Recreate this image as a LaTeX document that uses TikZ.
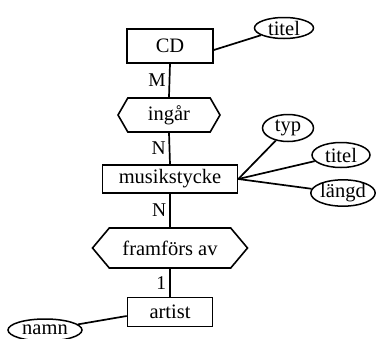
\documentclass[tikz,border=0pt]{standalone}
\usepackage{fontspec}
\setmainfont{Liberation Serif}
\usetikzlibrary{shapes.geometric,shapes.symbols}
\begin{document}
\begin{tikzpicture}[x=1pt,y=-1pt,
  every node/.style={font=\fontsize{20.5}{22}\selectfont, inner sep=0pt},
  ent/.style={draw, line width=1.6pt, rectangle},
  rel/.style={draw, line width=1.6pt, signal, signal to=west and east},
  attr/.style={draw, line width=1.5pt, ellipse},
  conn/.style={line width=1.7pt},
  card/.style={font=\fontsize{19.5}{21}\selectfont}]
\useasboundingbox (0,0) rectangle (378,338);
\node[ent, minimum width=86pt, minimum height=34pt] (cd) at (170,46) {CD};
\node[attr, minimum width=59pt, minimum height=21pt] (titel1) at (284,28) {titel};
\node[rel, minimum width=102pt, minimum height=34pt, signal pointer angle=120] (ingar) at (169,115) {ingår};
\node[ent, minimum width=135pt, minimum height=28pt] (ms) at (170,179) {musikstycke};
\node[attr, minimum width=51pt, minimum height=27pt] (typ) at (288,128) {typ};
\node[attr, minimum width=58pt, minimum height=25pt] (titel2) at (341,155) {titel};
\node[attr, minimum width=60pt, minimum height=24pt] (langd) at (343,193) {längd};
\node[rel, minimum width=155pt, minimum height=40pt, signal pointer angle=100] (fram) at (170,248) {framförs av};
\node[ent, minimum width=85pt, minimum height=29pt] (artist) at (170,312) {artist};
\node[attr, minimum width=74pt, minimum height=22pt] (namn) at (45,330) {namn};

\draw[conn] ([yshift=-4pt]cd.east) -- (titel1);
\draw[conn] (cd.south) -- node[card, left=3pt] {M} (ingar.north);
\draw[conn] (ingar.south) -- node[card, left=3pt] {N} (ms.north);
\draw[conn] (ms.east) -- (typ);
\draw[conn] (ms.east) -- (titel2);
\draw[conn] (ms.east) -- (langd);
\draw[conn] (ms.south) -- node[card, left=3pt] {N} (fram.north);
\draw[conn] (fram.south) -- node[card, left=3pt] {1} (artist.north);
\draw[conn] ([yshift=-4pt]artist.west) -- (namn);
\end{tikzpicture}
\end{document}
